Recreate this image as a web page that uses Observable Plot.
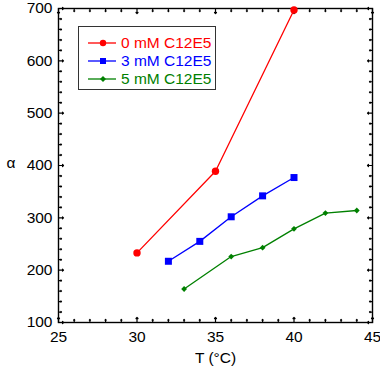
<!DOCTYPE html>
<html>
<head>
<meta charset="utf-8">
<script src="https://cdn.jsdelivr.net/npm/d3@7"></script>
<script src="https://cdn.jsdelivr.net/npm/@observablehq/plot@0.6"></script>
<style>
  body { margin: 0; background: #fff; font-family: "Liberation Sans", Arial, sans-serif; }
  #wrap { position: relative; width: 380px; height: 368px; }
  #legend {
    position: absolute; left: 78px; top: 26px; width: 136px; height: 62px;
    border: 1px solid #333; background: #fff;
  }
  .row { position: absolute; left: 0; height: 18px; display: flex; align-items: center; }
  .row svg { display: block; }
  .row span { font-size: 15.5px; margin-left: 5px; white-space: nowrap; }
</style>
</head>
<body>
<div id="wrap"></div>
<script>
// Temperature (°C) and alpha for each surfactant concentration
const tRed = [30, 35, 40];
const aRed = [233, 389, 697];
const tBlue = [32, 34, 36, 38, 40];
const aBlue = [217, 255, 302, 342, 377];
const tGreen = [33, 36, 38, 40, 42, 44];
const aGreen = [164, 226, 243, 279, 309, 314];

const seriesNames = ["0 mM C12E5", "3 mM C12E5", "5 mM C12E5"];
const seriesColors = ["#ff0000", "#0000ff", "#008000"];

const xMajor = [25, 30, 35, 40, 45];
const yMajor = [100, 200, 300, 400, 500, 600, 700];
const xMinor = d3.range(25, 45.01, 1).filter(v => v % 5 !== 0);
const yMinor = d3.range(100, 700.01, 20).filter(v => v % 100 !== 0);

const zip = (xs, ys) => xs.map((x, i) => ({x, y: ys[i]}));
const red = zip(tRed, aRed), blue = zip(tBlue, aBlue), green = zip(tGreen, aGreen);

// inward ticks on all four sides of the frame
function inwardTicks(values, len) {
  const o = {length: len, anchor: "start", stroke: "black", strokeWidth: 1.2};
  return [
    Plot.vector(values.x, {x: d => d, y: 100, rotate: 0, ...o}),
    Plot.vector(values.x, {x: d => d, y: 700, rotate: 180, ...o}),
    Plot.vector(values.y, {x: 25, y: d => d, rotate: 90, ...o}),
    Plot.vector(values.y, {x: 45, y: d => d, rotate: -90, ...o})
  ];
}

const chart = Plot.plot({
  width: 380,
  height: 368,
  marginLeft: 58,
  marginRight: 8,
  marginTop: 8,
  marginBottom: 46,
  style: {fontFamily: "Liberation Sans, Arial, sans-serif", fontSize: "15px", color: "black", background: "white"},
  x: {domain: [25, 45]},
  y: {domain: [100, 700]},
  marks: [
    Plot.axisX(xMajor, {tickSize: 0, tickPadding: 8, fontSize: 15.5, label: null}),
    Plot.axisY(yMajor, {tickSize: 0, tickPadding: 6, fontSize: 15.5, label: null}),
    ...inwardTicks({x: xMajor, y: yMajor}, 5),
    ...inwardTicks({x: xMinor, y: yMinor}, 3),
    Plot.frame({stroke: "black", strokeWidth: 1.4}),
    Plot.line(red, {x: "x", y: "y", stroke: seriesColors[0], strokeWidth: 1.3}),
    Plot.dot(red, {x: "x", y: "y", fill: seriesColors[0], r: 3.7, symbol: "circle"}),
    Plot.line(blue, {x: "x", y: "y", stroke: seriesColors[1], strokeWidth: 1.3}),
    Plot.dot(blue, {x: "x", y: "y", fill: seriesColors[1], r: 3.95, symbol: "square"}),
    Plot.line(green, {x: "x", y: "y", stroke: seriesColors[2], strokeWidth: 1.3}),
    Plot.dot(green, {x: "x", y: "y", fill: seriesColors[2], r: 2.6, symbol: "diamond2"}),
    Plot.text(["T (°C)"], {frameAnchor: "bottom", dy: 40, fontSize: 15.5, text: d => d}),
    Plot.text(["α"], {frameAnchor: "left", dx: -52, dy: -2, fontSize: 15.5, text: d => d})
  ]
});

const wrap = document.getElementById("wrap");
wrap.appendChild(chart);

// legend box inside the plot area
const legend = document.createElement("div");
legend.id = "legend";
const symbols = ["circle", "square", "diamond"];
seriesNames.forEach((name, i) => {
  const row = document.createElement("div");
  row.className = "row";
  row.style.top = (6.5 + i * 18) + "px";
  const c = seriesColors[i];
  let marker;
  if (symbols[i] === "circle") marker = `<circle cx="24" cy="9" r="3.2" fill="${c}"/>`;
  else if (symbols[i] === "square") marker = `<rect x="21" y="6" width="6" height="6" fill="${c}"/>`;
  else marker = `<path d="M24,6L27,9L24,12L21,9Z" fill="${c}"/>`;
  row.innerHTML = `<svg width="37" height="18"><line x1="9" y1="9" x2="37" y2="9" stroke="${c}" stroke-width="1.3"/>${marker}</svg><span style="color:${c}">${name}</span>`;
  legend.appendChild(row);
});
wrap.appendChild(legend);
</script>
</body>
</html>
